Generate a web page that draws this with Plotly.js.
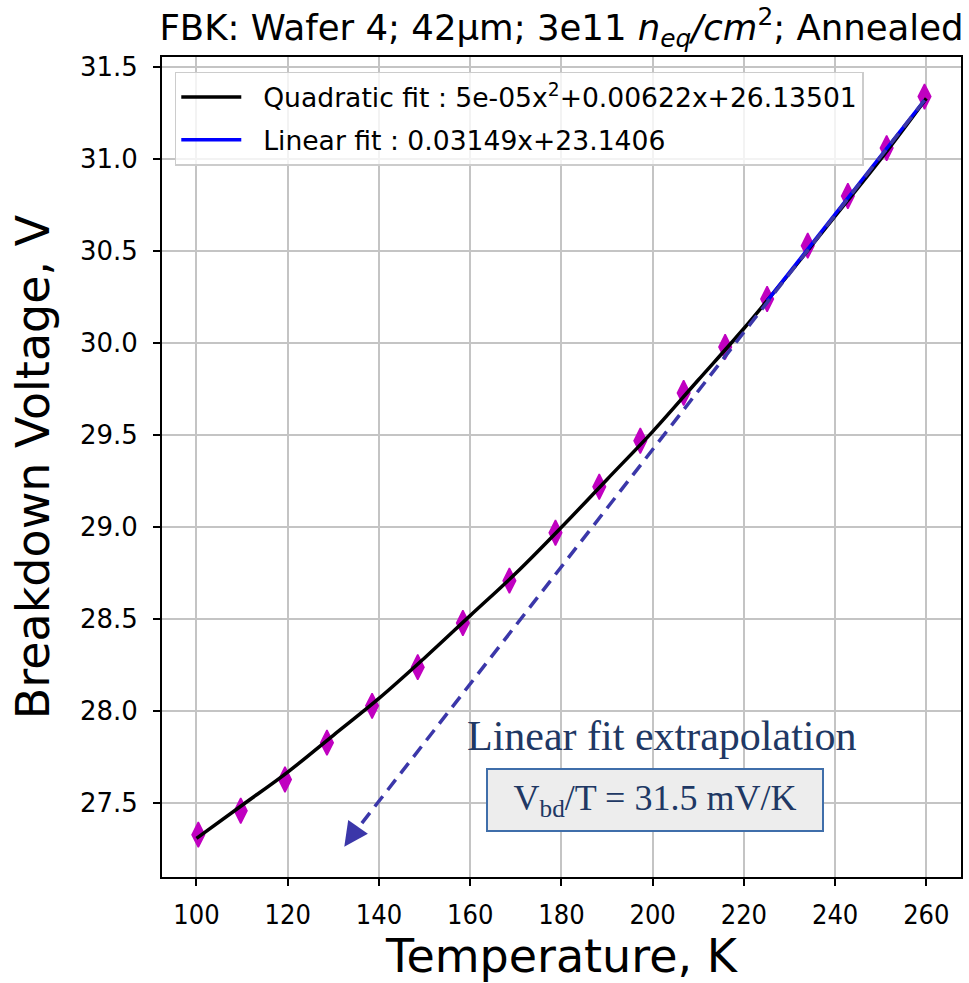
<!DOCTYPE html>
<html>
<head>
<meta charset="utf-8">
<script src="https://cdn.plot.ly/plotly-3.0.1.min.js"></script>
<style>html,body{margin:0;padding:0;background:#fff;}#chart{width:969px;height:983px;}</style>
</head>
<body>
<div id="chart"></div>
<script>
const temperatureK = [100.4, 109.7, 119.4, 128.6, 138.5, 148.5, 158.4, 168.6, 178.7, 188.3, 197.3, 206.8, 215.9, 225.1, 234.0, 242.8, 251.3, 259.6];
const breakdownV   = [27.33, 27.46, 27.63, 27.83, 28.03, 28.24, 28.48, 28.71, 28.97, 29.22, 29.47, 29.73, 29.98, 30.24, 30.53, 30.80, 31.06, 31.34];

// Quadratic fit curve
const quadT = [100, 110, 120, 130, 140, 150, 160, 170, 180, 190, 200, 210, 220, 230, 240, 250, 260];
const quadV = [27.31, 27.49, 27.67, 27.87, 28.07, 28.29, 28.52, 28.75, 29.00, 29.26, 29.52, 29.80, 30.08, 30.38, 30.69, 31.00, 31.33];

// Linear fit (blue) over the high-temperature points
const linT = [225.1, 259.6];
const linV = [30.23, 31.32];

// Linear fit extrapolation (dashed arrow)
const extT = [259.6, 134.6];
const extV = [31.32, 27.34];
const arrowTip = {T: 132.4, V: 27.265};

const quadLabel = "\u00a0\u00a0Quadratic fit : 5e-05x<sup>2</sup>+0.00622x+26.13501";
const linLabel = "\u00a0\u00a0Linear fit : 0.03149x+23.1406";
const xTicks = [100, 120, 140, 160, 180, 200, 220, 240, 260];
const yTicks = [27.5, 28.0, 28.5, 29.0, 29.5, 30.0, 30.5, 31.0, 31.5];

const traces = [
  {x: temperatureK, y: breakdownV, type: 'scatter', mode: 'markers', showlegend: false,
   marker: {symbol: 'diamond-tall', size: 18, color: '#c000c0', line: {color: '#c000c0', width: 1.5}}},
  {x: quadT, y: quadV, type: 'scatter', mode: 'lines', name: quadLabel, legendgroup: 'q',
   line: {color: '#000000', width: 3.5, shape: 'spline'}},
  {x: linT, y: linV, type: 'scatter', mode: 'lines', name: linLabel, legendgroup: 'l',
   line: {color: '#0000ff', width: 3.5}},
  {x: extT, y: extV, type: 'scatter', mode: 'lines', showlegend: false,
   line: {color: '#3b37a9', width: 3.5, dash: '13px,8px'}}
];

const layout = {
  width: 969, height: 983,
  margin: {l: 162, r: 8, t: 57, b: 106},
  paper_bgcolor: '#fff', plot_bgcolor: '#fff',
  showlegend: true,
  title: {text: 'FBK: Wafer 4; 42μm; 3e11 <i>n<sub>eq</sub>/cm</i><sup>2</sup>; Annealed',
          font: {family: 'DejaVu Sans', size: 35.5, color: '#000'},
          xref: 'paper', x: 0.5, xanchor: 'center', yref: 'container', y: 0.972, yanchor: 'middle'},
  xaxis: {range: [92.44, 267.6], tickvals: xTicks, ticktext: xTicks.map(String),
          showgrid: true, gridcolor: '#c4c4c4', gridwidth: 2,
          showline: true, linecolor: '#000', linewidth: 2, mirror: true,
          ticks: 'outside', ticklen: 7, tickwidth: 2, tickcolor: '#000',
          tickfont: {family: 'Liberation Sans Narrow, DejaVu Sans Condensed, DejaVu Sans', size: 27, color: '#000'},
          ticklabelstandoff: 6, zeroline: false,
          title: {text: 'Temperature, K', font: {family: 'DejaVu Sans', size: 46, color: '#000'}, standoff: 14}},
  yaxis: {range: [27.10, 31.555], tickvals: yTicks, ticktext: yTicks.map(v => v.toFixed(1)),
          showgrid: true, gridcolor: '#c4c4c4', gridwidth: 2,
          showline: true, linecolor: '#000', linewidth: 2, mirror: true,
          ticks: 'outside', ticklen: 7, tickwidth: 2, tickcolor: '#000',
          tickfont: {family: 'DejaVu Sans', size: 26, color: '#000'}, ticklabelstandoff: 10, zeroline: false,
          title: {text: 'Breakdown Voltage, V', font: {family: 'DejaVu Sans', size: 46, color: '#000'}, standoff: 16}},
  legend: {x: 0.016, y: 0.982, xanchor: 'left', yanchor: 'top', traceorder: 'grouped',
           bgcolor: 'rgba(255,255,255,0.8)', bordercolor: '#cccccc', borderwidth: 1.5,
           font: {family: 'DejaVu Sans', size: 26.6, color: '#000'}, itemwidth: 60, tracegroupgap: 5},
  annotations: [
    {x: arrowTip.T, y: arrowTip.V, xref: 'x', yref: 'y', ax: 134.8, ay: 27.35, axref: 'x', ayref: 'y',
     text: '', showarrow: true, arrowhead: 2, arrowsize: 1.6, arrowwidth: 3, arrowcolor: '#3b37a9', standoff: 0},
    {x: 202.1, y: 27.864, xref: 'x', yref: 'y', text: 'Linear fit extrapolation', showarrow: false,
     font: {family: 'Liberation Serif', size: 42, color: '#203864'}},
    {x: 200.6, y: 27.516, xref: 'x', yref: 'y', text: 'V<sub>bd</sub>/T = 31.5 mV/K', showarrow: false,
     font: {family: 'Liberation Serif', size: 36, color: '#203864'},
     width: 334, height: 60, bgcolor: '#ededed', bordercolor: '#3f6eaa', borderwidth: 2, borderpad: 0}
  ]
};

Plotly.newPlot('chart', traces, layout, {displayModeBar: false, staticPlot: true});
</script>
</body>
</html>
